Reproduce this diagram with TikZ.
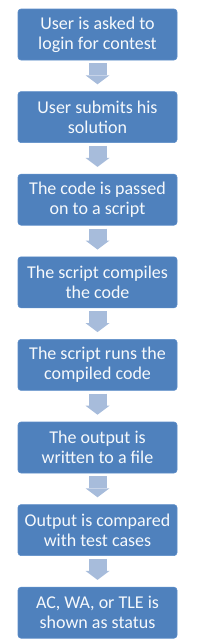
\documentclass[tikz,border=0pt]{standalone}
\usepackage{fontspec}
\setmainfont{Carlito}
\usetikzlibrary{positioning,arrows.meta}
\definecolor{boxblue}{HTML}{4F81BD}
\definecolor{boxedge}{HTML}{5B8CC8}
\definecolor{arrowblue}{HTML}{A7BCDB}

\begin{document}
\begin{tikzpicture}[
  font=\fontsize{18}{20}\selectfont,
  node distance=31pt,
  stage/.style={draw=boxedge, fill=boxblue, line width=0.6pt,
                rounded corners=3pt, text=white!95!boxblue, align=center,
                minimum width=159pt, minimum height=51pt, inner sep=1pt},
  flow/.style={draw=arrowblue, line width=18pt,
               -{Triangle[width=24pt,length=9pt,line width=0pt,fill=arrowblue]},
               shorten <=3pt, shorten >=7pt},
]
\useasboundingbox (0,0) rectangle (201pt,-641pt);

\node[stage] (login) at (97.5pt,-34.5pt) {User is asked to\\login for contest};
\node[stage, below=of login] (submit) {User submits his\\solution};
\node[stage, below=of submit] (pass) {The code is passed\\on to a script};
\node[stage, below=of pass] (compile) {The script compiles\\the code};
\node[stage, below=of compile] (run) {The script runs the\\compiled code};
\node[stage, below=of run] (write) {The output is\\written to a file};
\node[stage, below=of write] (compare) {Output is compared\\with test cases};
\node[stage, below=of compare] (status) {AC, WA, or TLE is\\shown as status};

\foreach \a/\b in {login/submit, submit/pass, pass/compile, compile/run,
                   run/write, write/compare, compare/status}
  \draw[flow] (\a) -- (\b);
\end{tikzpicture}
\end{document}
